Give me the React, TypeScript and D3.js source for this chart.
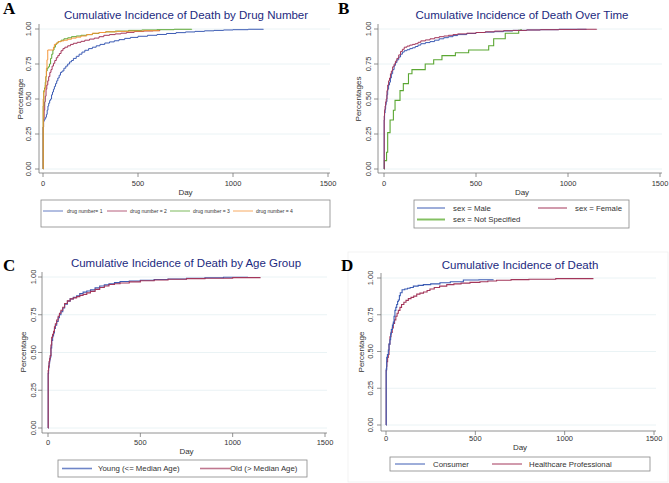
import React from 'react';
import * as d3 from 'd3';

type Pt = [number, number];

const xTicks = [0, 500, 1000, 1500];
const yTicks = [0, 0.25, 0.5, 0.75, 1];
const yTickLabels = ['0.00', '0.25', '0.50', '0.75', '1.00'];

// Panel A: drug number
const drug1: Pt[] = [[0,0],[1,0.30],[3,0.34],[6,0.35],[10,0.36],[14,0.37],[18,0.39],[22,0.42],[26,0.45],[30,0.47],[35,0.49],[40,0.50],[45,0.53],[50,0.55],[55,0.57],[60,0.59],[66,0.61],[72,0.63],[78,0.65],[85,0.67],[92,0.69],[100,0.70],[110,0.72],[120,0.735],[130,0.75],[140,0.765],[150,0.775],[160,0.79],[175,0.805],[190,0.82],[205,0.835],[220,0.848],[240,0.86],[260,0.87],[280,0.88],[300,0.89],[325,0.90],[350,0.908],[375,0.916],[400,0.924],[430,0.933],[460,0.94],[500,0.948],[550,0.955],[600,0.961],[650,0.968],[700,0.974],[750,0.979],[800,0.983],[850,0.987],[900,0.99],[950,0.993],[1000,0.995],[1080,0.998],[1160,1.0]];
const drug2: Pt[] = [[0,0],[1,0.30],[3,0.36],[6,0.42],[9,0.48],[12,0.52],[16,0.57],[20,0.60],[25,0.63],[30,0.66],[36,0.69],[42,0.71],[48,0.735],[55,0.755],[62,0.775],[70,0.795],[78,0.81],[86,0.825],[95,0.845],[105,0.86],[115,0.87],[130,0.88],[145,0.89],[160,0.898],[180,0.905],[200,0.912],[220,0.92],[245,0.928],[270,0.935],[295,0.945],[320,0.955],[350,0.96],[380,0.965],[410,0.97],[440,0.976],[480,0.982],[530,0.986],[580,0.988],[616,0.99]];
const drug3: Pt[] = [[0,0],[1,0.45],[4,0.56],[8,0.58],[12,0.62],[15,0.66],[18,0.70],[22,0.72],[28,0.73],[34,0.75],[40,0.79],[46,0.82],[52,0.85],[58,0.87],[65,0.89],[72,0.90],[80,0.91],[95,0.92],[110,0.93],[130,0.937],[150,0.945],[175,0.95],[200,0.955],[230,0.96],[260,0.968],[295,0.975],[330,0.98],[380,0.985],[450,0.99],[520,0.993],[600,0.995],[690,0.998],[783,1.0]];
const drug4: Pt[] = [[0,0],[1,0.50],[4,0.55],[8,0.57],[12,0.60],[15,0.66],[18,0.72],[21,0.78],[25,0.85],[50,0.85],[55,0.87],[60,0.89],[70,0.90],[80,0.91],[95,0.915],[110,0.92],[130,0.927],[150,0.935],[175,0.942],[200,0.95],[230,0.96],[260,0.97],[295,0.975],[330,0.98],[390,0.983],[450,0.985],[530,0.988],[612,0.99]];
const drugLabels = ['drug number= 1', 'drug number = 2', 'drug number = 3', 'drug number = 4'];

// Panel B: sex
const male: Pt[] = [[0,0],[1,0.35],[3,0.40],[6,0.43],[9,0.46],[12,0.48],[16,0.53],[20,0.57],[25,0.60],[30,0.62],[35,0.65],[40,0.68],[47,0.71],[55,0.74],[62,0.76],[70,0.78],[80,0.80],[90,0.82],[100,0.835],[110,0.845],[125,0.852],[140,0.86],[155,0.866],[170,0.875],[185,0.885],[200,0.895],[225,0.903],[250,0.91],[275,0.92],[300,0.93],[325,0.938],[350,0.945],[375,0.953],[400,0.96],[450,0.968],[500,0.975],[550,0.978],[600,0.981],[650,0.986],[700,0.99],[775,0.993],[850,0.995],[950,0.998],[1100,1.0]];
const female: Pt[] = [[0,0],[1,0.38],[3,0.42],[6,0.45],[9,0.48],[12,0.50],[16,0.56],[20,0.60],[25,0.63],[30,0.65],[35,0.68],[40,0.70],[47,0.73],[55,0.75],[62,0.77],[70,0.79],[80,0.815],[90,0.84],[100,0.855],[110,0.87],[125,0.878],[140,0.885],[155,0.89],[170,0.895],[185,0.905],[200,0.915],[225,0.922],[250,0.93],[275,0.938],[300,0.945],[325,0.95],[350,0.955],[375,0.96],[400,0.965],[450,0.97],[500,0.975],[550,0.98],[600,0.985],[650,0.988],[700,0.99],[775,0.993],[850,0.995],[950,0.997],[1050,0.998],[1156,1.0]];
const notSpecified: Pt[] = [[0,0],[2,0.06],[14,0.12],[20,0.26],[33,0.35],[51,0.42],[60,0.49],[87,0.56],[105,0.61],[133,0.68],[152,0.71],[224,0.75],[270,0.78],[315,0.81],[388,0.83],[460,0.85],[569,0.88],[596,0.93],[659,0.97],[732,0.99],[745,1.0]];
const sexLabels = ['sex = Male', 'sex = Female', 'sex = Not Specified'];

// Panel C: age group
const young: Pt[] = [[0,0],[1,0.36],[3,0.40],[6,0.43],[9,0.45],[12,0.47],[16,0.53],[20,0.58],[25,0.61],[30,0.63],[35,0.66],[40,0.68],[47,0.705],[55,0.73],[62,0.75],[70,0.77],[80,0.795],[90,0.82],[105,0.84],[120,0.855],[137,0.865],[155,0.875],[172,0.89],[190,0.90],[210,0.907],[230,0.915],[255,0.928],[280,0.94],[305,0.948],[330,0.955],[360,0.963],[390,0.97],[440,0.974],[500,0.978],[575,0.983],[650,0.987],[750,0.991],[850,0.995],[950,0.998],[1083,1.0]];
const old: Pt[] = [[0,0],[1,0.38],[3,0.41],[6,0.44],[9,0.46],[12,0.48],[16,0.55],[20,0.60],[25,0.62],[30,0.64],[35,0.67],[40,0.69],[47,0.715],[55,0.74],[62,0.76],[70,0.78],[80,0.80],[90,0.825],[105,0.842],[120,0.855],[137,0.862],[155,0.87],[172,0.878],[190,0.885],[210,0.895],[230,0.905],[255,0.918],[280,0.93],[305,0.94],[330,0.95],[360,0.955],[390,0.96],[440,0.968],[500,0.975],[575,0.98],[650,0.985],[750,0.989],[850,0.992],[1000,0.996],[1148,1.0]];
const ageLabels = ['Young (<= Median Age)', 'Old (> Median Age)'];

// Panel D: reporter
const consumer: Pt[] = [[0,0],[1,0.38],[4,0.46],[8,0.48],[13,0.51],[17,0.55],[22,0.58],[26,0.62],[30,0.65],[36,0.68],[41,0.70],[45,0.74],[50,0.78],[55,0.80],[60,0.82],[65,0.84],[69,0.85],[75,0.88],[80,0.90],[90,0.92],[105,0.925],[120,0.93],[135,0.935],[153,0.945],[180,0.95],[209,0.955],[250,0.96],[302,0.968],[360,0.975],[433,0.986],[520,0.988],[600,0.99]];
const hcp: Pt[] = [[0,0],[1,0.37],[3,0.40],[5,0.43],[9,0.46],[13,0.48],[17,0.55],[22,0.60],[28,0.63],[35,0.66],[41,0.69],[48,0.715],[55,0.74],[62,0.76],[69,0.78],[78,0.80],[87,0.82],[100,0.835],[112,0.848],[125,0.86],[140,0.868],[155,0.877],[172,0.89],[190,0.897],[210,0.905],[230,0.915],[246,0.925],[270,0.935],[300,0.945],[340,0.955],[380,0.96],[420,0.965],[470,0.97],[526,0.975],[570,0.98],[619,0.985],[700,0.989],[800,0.992],[950,0.996],[1158,1.0]];
const reporterLabels = ['Consumer', 'Healthcare Professional'];

const titles = [
  'Cumulative Incidence of Death by Drug Number',
  'Cumulative Incidence of Death Over Time',
  'Cumulative Incidence of Death by Age Group',
  'Cumulative Incidence of Death',
];

const C_BLUE = '#3c5cb4';
const C_RED = '#a3365a';
const C_GREEN = '#5ba733';
const C_GREEN_L = '#84c062';
const C_ORANGE = '#f5963a';
const TITLE = '#1c2a80';
const FONT = '"Liberation Sans", Arial, sans-serif';

type Layout = {
  x0: number; x1: number; y0: number; y1: number; axisX: number; axisY: number;
  tickLabX: number; yTitleX: number; xLabY: number; dayY: number;
  titleX: number; titleY: number; letterX: number; letterY: number; yTitleY: number;
};

type LegItem = { color: string; width: number; lx1: number; lx2: number; ly: number; tx: number; label: string };

type LegendSpec = { bx: number; by: number; bw: number; bh: number; fs: number; items: LegItem[] };

type PanelProps = {
  L: Layout; letter: string; title: string; ytitle: string;
  series: { data: Pt[]; color: string; width: number }[];
  legend: LegendSpec;
};

function Panel({ L, letter, title, ytitle, series, legend }: PanelProps) {
  const x = d3.scaleLinear().domain([0, 1500]).range([L.x0, L.x1]);
  const y = d3.scaleLinear().domain([0, 1]).range([L.y0, L.y1]);
  const line = d3.line<Pt>().x(d => x(d[0])).y(d => y(d[1])).curve(d3.curveStepAfter);
  return (
    <g>
      <text x={L.letterX} y={L.letterY} fontFamily='"Liberation Serif", "Times New Roman", serif' fontWeight="bold" fontSize={17} fill="#000">{letter}</text>
      <text x={L.titleX} y={L.titleY} textAnchor="middle" fontFamily={FONT} fontSize={11.5} fill={TITLE}>{title}</text>
      {yTicks.map(t => (
        <line key={'g' + t} x1={L.axisX} x2={x(1500) + 2} y1={y(t)} y2={y(t)} stroke="#e4f0f2" strokeWidth={0.8} />
      ))}
      <line x1={L.axisX} x2={L.axisX} y1={y(1) - 5} y2={L.axisY} stroke="#777" strokeWidth={0.8} />
      <line x1={L.axisX} x2={x(1500) + 2} y1={L.axisY} y2={L.axisY} stroke="#777" strokeWidth={0.8} />
      {yTicks.map((t, i) => (
        <g key={'y' + t}>
          <line x1={L.axisX - 4} x2={L.axisX} y1={y(t)} y2={y(t)} stroke="#777" strokeWidth={0.8} />
          <text transform={`translate(${L.tickLabX},${y(t)}) rotate(-90)`} textAnchor="middle" dominantBaseline="central" fontFamily={FONT} fontSize={7.5} fill="#333">{yTickLabels[i]}</text>
        </g>
      ))}
      {xTicks.map(t => (
        <g key={'x' + t}>
          <line x1={x(t)} x2={x(t)} y1={L.axisY} y2={L.axisY + 4} stroke="#777" strokeWidth={0.8} />
          <text x={x(t)} y={L.xLabY} textAnchor="middle" dominantBaseline="central" fontFamily={FONT} fontSize={7.5} fill="#333">{t}</text>
        </g>
      ))}
      <text x={(L.x0 + L.x1) / 2} y={L.dayY} textAnchor="middle" dominantBaseline="central" fontFamily={FONT} fontSize={8} fill="#333">Day</text>
      <text transform={`translate(${L.yTitleX},${L.yTitleY}) rotate(-90)`} textAnchor="middle" dominantBaseline="central" fontFamily={FONT} fontSize={8} fill="#333">{ytitle}</text>
      {series.map((s, i) => (
        <path key={'s' + i} d={line(s.data) || ''} fill="none" stroke={s.color} strokeWidth={s.width} />
      ))}
      <rect x={legend.bx} y={legend.by} width={legend.bw} height={legend.bh} fill="#fff" stroke="#888" strokeWidth={0.8} />
      {legend.items.map((it, i) => (
        <g key={'l' + i}>
          <line x1={it.lx1} x2={it.lx2} y1={it.ly} y2={it.ly} stroke={it.color} strokeWidth={it.width} />
          <text x={it.tx} y={it.ly} dominantBaseline="central" fontFamily={FONT} fontSize={legend.fs} fill="#333">{it.label}</text>
        </g>
      ))}
    </g>
  );
}

const LA: Layout = { x0: 43, x1: 328, y0: 169, y1: 29, axisX: 39, axisY: 173, tickLabX: 28, yTitleX: 20, yTitleY: 99, xLabY: 183, dayY: 192, titleX: 186, titleY: 19, letterX: 3, letterY: 14 };
const LB: Layout = { x0: 384, x1: 660, y0: 169, y1: 29, axisX: 378, axisY: 173, tickLabX: 368, yTitleX: 358, yTitleY: 99, xLabY: 183, dayY: 192, titleX: 522, titleY: 19, letterX: 338, letterY: 14 };
const LC: Layout = { x0: 48, x1: 325, y0: 428, y1: 277, axisX: 42, axisY: 433, tickLabX: 33, yTitleX: 23, yTitleY: 352, xLabY: 442, dayY: 451, titleX: 186, titleY: 267, letterX: 3, letterY: 271 };
const LD: Layout = { x0: 386, x1: 654, y0: 425, y1: 278, axisX: 381, axisY: 431, tickLabX: 370, yTitleX: 361, yTitleY: 352, xLabY: 438, dayY: 447, titleX: 520, titleY: 269, letterX: 341, letterY: 271 };

export default function App() {
  return (
    <svg width={669} height={483} viewBox="0 0 669 483" style={{ position: 'absolute', left: 0, top: 0, background: '#fff' }}>
      <rect x={0} y={0} width={669} height={483} fill="#fff" />
      <rect x={348} y={252} width={320} height={230} fill="none" stroke="#f0f0f0" strokeWidth={0.8} />
      <Panel
        L={LA} letter="A" title={titles[0]} ytitle="Percentage"
        series={[
          { data: drug1, color: C_BLUE, width: 1 },
          { data: drug2, color: C_RED, width: 1 },
          { data: drug3, color: C_GREEN, width: 1 },
          { data: drug4, color: C_ORANGE, width: 1 },
        ]}
        legend={{
          bx: 41, by: 200, bw: 289, bh: 27, fs: 5,
          items: [
            { color: C_BLUE, width: 0.8, lx1: 43, lx2: 63, ly: 211, tx: 67, label: drugLabels[0] },
            { color: C_RED, width: 0.8, lx1: 107, lx2: 127, ly: 211, tx: 130, label: drugLabels[1] },
            { color: C_GREEN, width: 0.8, lx1: 170, lx2: 190, ly: 211, tx: 193, label: drugLabels[2] },
            { color: C_ORANGE, width: 0.8, lx1: 233, lx2: 253, ly: 211, tx: 256, label: drugLabels[3] },
          ],
        }}
      />
      <Panel
        L={LB} letter="B" title={titles[1]} ytitle="Percentages"
        series={[
          { data: notSpecified, color: C_GREEN, width: 1.1 },
          { data: male, color: C_BLUE, width: 1 },
          { data: female, color: C_RED, width: 1 },
        ]}
        legend={{
          bx: 414, by: 200, bw: 215, bh: 28, fs: 7.8,
          items: [
            { color: C_BLUE, width: 1, lx1: 417, lx2: 445, ly: 208, tx: 453, label: sexLabels[0] },
            { color: C_RED, width: 1, lx1: 538, lx2: 567, ly: 208, tx: 575, label: sexLabels[1] },
            { color: C_GREEN_L, width: 2, lx1: 417, lx2: 445, ly: 219.5, tx: 453, label: sexLabels[2] },
          ],
        }}
      />
      <Panel
        L={LC} letter="C" title={titles[2]} ytitle="Percentage"
        series={[
          { data: young, color: C_BLUE, width: 1.1 },
          { data: old, color: C_RED, width: 1.1 },
        ]}
        legend={{
          bx: 58, by: 460, bw: 249, bh: 17, fs: 7.8,
          items: [
            { color: '#6f86c8', width: 1.6, lx1: 62, lx2: 92, ly: 468.5, tx: 98, label: ageLabels[0] },
            { color: '#c07890', width: 1.6, lx1: 200, lx2: 230, ly: 468.5, tx: 230, label: ageLabels[1] },
          ],
        }}
      />
      <Panel
        L={LD} letter="D" title={titles[3]} ytitle="Percentage"
        series={[
          { data: hcp, color: C_RED, width: 1.1 },
          { data: consumer, color: C_BLUE, width: 1.1 },
        ]}
        legend={{
          bx: 390, by: 457, bw: 260, bh: 14, fs: 7.8,
          items: [
            { color: C_BLUE, width: 1, lx1: 395, lx2: 425, ly: 464, tx: 433, label: reporterLabels[0] },
            { color: C_RED, width: 1, lx1: 492, lx2: 522, ly: 464, tx: 529, label: reporterLabels[1] },
          ],
        }}
      />
    </svg>
  );
}
